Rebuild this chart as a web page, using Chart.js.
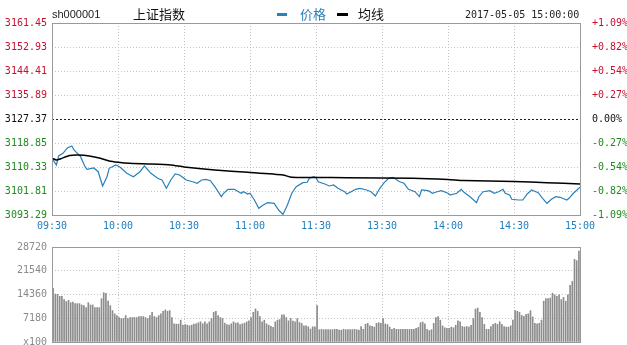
<!DOCTYPE html>
<html><head><meta charset="utf-8">
<script src="https://cdn.jsdelivr.net/npm/chart.js@4"></script>
<style>
html,body{margin:0;padding:0;background:#fff;overflow:hidden;width:627px;height:345px;}
canvas{position:absolute;left:0;}
.t{position:absolute;white-space:nowrap;z-index:2;}
</style></head><body>
<canvas id="p" width="627" height="236" style="top:0;width:627px;height:236px"></canvas>
<canvas id="v" width="627" height="117" style="top:236px;width:627px;height:117px"></canvas>
<div class="t" style="left:52px;top:9px;font:11px/11px 'Liberation Sans',sans-serif;color:#222">sh000001</div>
<div class="t" style="left:133px;top:7px;font:13px/13px 'Noto Sans CJK SC',sans-serif;color:#111">上证指数</div>
<div class="t" style="left:277px;top:13px;width:10px;height:3px;background:#2a80b9"></div>
<div class="t" style="left:300px;top:7px;font:13px/13px 'Noto Sans CJK SC',sans-serif;color:#2a80b9">价格</div>
<div class="t" style="left:337px;top:13px;width:11px;height:3px;background:#000"></div>
<div class="t" style="left:358px;top:7px;font:13px/13px 'Noto Sans CJK SC',sans-serif;color:#111">均线</div>
<div class="t" style="left:465px;top:10px;font:10px/10px 'DejaVu Sans Mono',monospace;color:#222">2017-05-05 15:00:00</div>
<script>
const timeLabels = ['09:30','10:00','10:30','11:00','11:30','13:30','14:00','14:30','15:00'];
const timeTickPos = [0,30,60,90,120,150,180,210,240];
const prevClose = 3127.37;
const priceTicks = [3093.29,3101.81,3110.33,3118.85,3127.37,3135.89,3144.41,3152.93,3161.45];
const pctLabels = ['-1.09%','-0.82%','-0.54%','-0.27%','0.00%','+0.27%','+0.54%','+0.82%','+1.09%'];
const volTicks = [0,7180,14360,21540,28720];
const volTickLabels = ['x100','7180','14360','21540','28720'];

const priceMinutes = [0,2,3,5,7,9,10,13,15,16,
19,21,23,25,26,29,31,34,37,40,
42,45,48,50,52,54,56,58,60,61,
64,66,68,70,72,74,77,78,80,83,
84,86,87,89,90,92,94,96,98,101,
103,105,107,109,111,114,116,117,119,120,
121,124,126,128,130,133,134,136,138,140,
143,145,147,149,151,153,155,158,160,162,
165,167,168,171,173,175,177,180,181,184,
186,187,190,193,194,196,199,201,203,205,
206,208,209,212,214,216,218,221,223,225,
227,229,231,234,235,237,240];
const priceValues = [3113.42,3111.04,3114.24,3115.19,3117.08,3117.78,3116.37,3113.99,3110.44,3109.51,
3109.98,3108.66,3103.59,3106.89,3109.87,3111.04,3110.22,3108.09,3106.89,3108.66,
3110.69,3108.09,3106.32,3105.72,3102.77,3105.72,3107.85,3107.49,3106.32,3105.72,
3105.11,3104.54,3105.72,3105.96,3105.47,3103.34,3099.79,3101.00,3102.41,3102.41,
3101.92,3101.00,3101.56,3100.75,3101.00,3098.61,3095.67,3096.84,3097.66,3097.44,
3095.06,3093.50,3096.84,3101.00,3103.34,3104.76,3104.90,3106.32,3106.89,3106.50,
3105.11,3104.30,3103.59,3103.94,3102.77,3101.56,3100.75,3101.56,3102.41,3102.77,
3102.16,3101.56,3100.04,3102.77,3104.76,3106.32,3106.67,3105.11,3104.54,3102.41,
3101.56,3099.79,3102.16,3101.92,3101.00,3101.56,3101.92,3101.00,3100.39,3101.00,
3102.41,3101.56,3099.79,3097.66,3099.79,3101.56,3101.92,3101.00,3101.56,3102.41,
3101.00,3100.39,3098.86,3098.61,3098.61,3100.75,3102.16,3101.21,3099.22,3097.44,
3098.86,3099.79,3099.58,3098.61,3099.22,3101.00,3103.12];

const avgMinutes = [0,2,4,8,12,17,22,26,30,35,45,54,60,74,89,105,109,120,134,164,180,187,210,225,240];
const avgValues = [3113.42,3112.81,3113.28,3114.41,3114.59,3114.24,3113.42,3112.46,3112.00,3111.64,3111.39,3111.04,3110.33,3109.27,3108.45,3107.49,3106.67,3106.60,3106.53,3106.32,3105.90,3105.54,3105.18,3104.76,3104.30];

const volumeValues = [
16200,14500,14400,13800,13800,12800,12200,12600,11900,12100,
11600,11600,11600,11200,11000,10400,11900,11200,11200,10400,
10400,10400,13100,14900,14700,12400,11000,9500,8500,8000,
7400,7100,7100,8000,7100,7400,7400,7400,7400,7700,
7700,7700,7400,7100,8000,9000,7700,7400,8000,8500,
9300,9700,9300,9500,7400,5500,5400,5400,6600,5100,
5300,5100,4900,5100,5400,5500,5800,6100,5500,6100,
5500,6100,7100,9000,9300,8000,7400,7100,5700,5300,
5100,5500,6100,5700,5800,5300,5500,5700,6100,6400,
7400,9000,10000,9300,7700,6100,6600,5500,5100,4700,
4400,6100,6600,6800,8200,8200,7400,6400,7100,6300,
6100,7100,5900,5600,4900,4900,4600,3900,4600,4600,
11000,
3730,3830,3730,3730,3730,3730,3730,3830,3830,3600,
3550,3830,3730,3730,3730,3730,3830,3730,3600,4690,
3830,5360,5650,4900,4700,4500,5650,5840,5650,7090,
5460,5270,4500,3830,4110,3830,3830,3830,3830,3830,
3830,3830,3830,3830,4110,4400,5840,6030,5460,3830,
3450,3730,5650,7380,7660,6600,4900,4300,4110,4110,
4500,4300,5070,6400,6130,4690,4500,4690,4500,5070,
7090,9960,10240,9000,7380,5360,3830,3830,4690,5360,
5650,5360,6130,5360,4690,4500,4500,4900,6610,9480,
9290,9000,
8040,7750,8330,8520,9480,7560,5650,5460,5650,6600,
12350,13120,13120,13300,14740,14260,13790,14260,12830,13500,12350,14260,17140,18290,24990,24600,27480];

const MONO = "'DejaVu Sans Mono', monospace";
const RED = '#c8102e', GREEN = '#1e8a1e', BLUE = '#1f7fbf', GRIDC = '#c4c4c4';
const isBase = v => Math.abs(v - prevClose) < 0.001;
const priceColor = v => isBase(v) ? '#111' : (v > prevClose ? RED : GREEN);

const frame = {
  id: 'frame',
  afterDatasetsDraw(chart) {
    const a = chart.chartArea, c = chart.ctx;
    c.save();
    c.strokeStyle = '#9a9a9a';
    c.lineWidth = 1;
    c.setLineDash([]);
    c.strokeRect(Math.round(a.left) + 0.5, Math.round(a.top) + 0.5, Math.round(a.right - a.left), Math.round(a.bottom - a.top));
    c.restore();
  }
};

const xTicks = s => { s.ticks = timeTickPos.map(v => ({ value: v })); };

new Chart(document.getElementById('p'), {
  type: 'line',
  data: {
    datasets: [
      { label: '均线', data: avgMinutes.map((m, i) => ({ x: m, y: avgValues[i] })), borderColor: '#000', borderWidth: 1.5, pointRadius: 0, tension: 0.2, order: 0 },
      { label: '价格', data: priceMinutes.map((m, i) => ({ x: m, y: priceValues[i] })), borderColor: '#2a80b9', borderWidth: 1.2, pointRadius: 0, tension: 0, order: 1 }
    ]
  },
  options: {
    responsive: false, animation: false, devicePixelRatio: 1,
    layout: { padding: { top: 23, left: 0, right: 0, bottom: 0 } },
    plugins: { legend: { display: false }, tooltip: { enabled: false } },
    scales: {
      x: {
        type: 'linear', min: 0, max: 240, offset: false,
        afterBuildTicks: xTicks,
        afterFit: s => { s.height = 21; },
        ticks: { callback: (v, i) => timeLabels[i], color: BLUE, font: { family: MONO, size: 10 }, padding: 5, maxRotation: 0, autoSkip: false },
        grid: { color: GRIDC, drawTicks: false },
        border: { display: false, dash: [1, 2] }
      },
      y: {
        position: 'left', min: 3093.29, max: 3161.45,
        afterBuildTicks: s => { s.ticks = priceTicks.map(v => ({ value: v })); },
        afterFit: s => { s.width = 52; },
        ticks: { callback: v => v.toFixed(2), color: c => priceColor(c.tick.value), font: { family: MONO, size: 10 }, padding: 5 },
        grid: { color: c => (c.tick && isBase(c.tick.value)) ? '#222' : GRIDC, drawTicks: false },
        border: { display: false, dash: c => (c.tick && isBase(c.tick.value)) ? [2, 2] : [1, 2] }
      },
      y2: {
        position: 'right', min: 3093.29, max: 3161.45,
        afterBuildTicks: s => { s.ticks = priceTicks.map(v => ({ value: v })); },
        afterFit: s => { s.width = 47; },
        ticks: { callback: (v, i) => pctLabels[i], color: c => priceColor(c.tick.value), font: { family: MONO, size: 10 }, padding: 4 },
        grid: { display: false },
        border: { display: false }
      }
    }
  },
  plugins: [frame]
});

new Chart(document.getElementById('v'), {
  type: 'bar',
  data: {
    datasets: [{ label: '成交量', data: volumeValues.map((v, i) => ({ x: i + 0.5, y: v })), backgroundColor: '#8c8c8c', barThickness: 1, borderWidth: 0 }]
  },
  options: {
    responsive: false, animation: false, devicePixelRatio: 1,
    layout: { padding: { top: 7, left: 0, right: 47, bottom: 0 } },
    plugins: { legend: { display: false }, tooltip: { enabled: false } },
    scales: {
      x: {
        type: 'linear', min: 0, max: 240, offset: false,
        afterBuildTicks: xTicks,
        afterFit: s => { s.height = 10; },
        ticks: { display: false },
        grid: { color: GRIDC, drawTicks: false, offset: false },
        border: { display: false, dash: [1, 2] }
      },
      y: {
        position: 'left', min: 0, max: 28720,
        afterBuildTicks: s => { s.ticks = volTicks.map(v => ({ value: v })); },
        afterFit: s => { s.width = 52; },
        ticks: { callback: (v, i) => volTickLabels[i], color: '#8a8a8a', font: { family: MONO, size: 10 }, padding: 5 },
        grid: { color: GRIDC, drawTicks: false },
        border: { display: false, dash: [1, 2] }
      }
    }
  },
  plugins: [frame]
});
</script>
</body></html>
